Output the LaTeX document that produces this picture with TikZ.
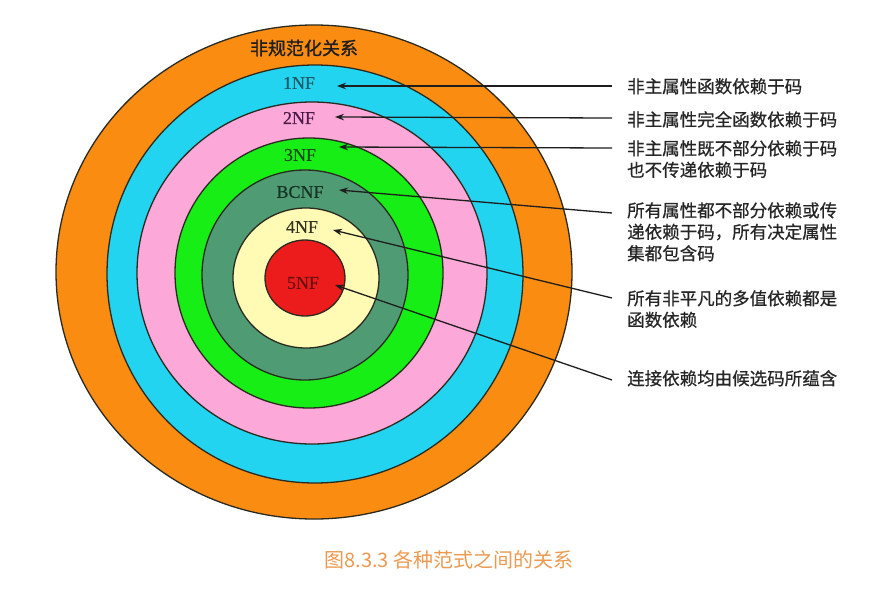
\documentclass[tikz,border=0pt]{standalone}
\usepackage{fontspec}
\setmainfont{Liberation Serif}
\newfontfamily\cjk{Noto Sans CJK SC}
\newfontfamily\cjkd[FakeBold=0.6]{Noto Sans CJK SC}
\newfontfamily\cjkb[FakeBold=1.2]{Noto Sans CJK SC}
\newfontfamily\serifb[FakeBold=0.5]{Liberation Serif}
\usetikzlibrary{arrows.meta}
\definecolor{cOrange}{HTML}{FA8C12}
\definecolor{cCyan}{HTML}{22D4F0}
\definecolor{cPink}{HTML}{FCA8D8}
\definecolor{cGreen}{HTML}{16EE16}
\definecolor{cDkGreen}{HTML}{4F9C74}
\definecolor{cYellow}{HTML}{FFFAB4}
\definecolor{cRed}{HTML}{EC1C1C}
\definecolor{cRing}{HTML}{2A2A20}
\definecolor{cArrow}{HTML}{1E1E1E}
\definecolor{cCaption}{HTML}{EC9A50}
\definecolor{t1}{HTML}{1E5A66}
\definecolor{t2}{HTML}{4A1A4A}
\definecolor{t3}{HTML}{1C4A1C}
\definecolor{t4}{HTML}{163226}
\definecolor{t5}{HTML}{333322}
\definecolor{t6}{HTML}{6A1010}
\begin{document}
\begin{tikzpicture}[x=1pt,y=-1pt,
  ring/.style={draw=cRing,line width=1.3pt},
  nflabel/.style={font=\serifb\fontsize{18}{20}\selectfont,inner sep=0pt},
  desc/.style={font=\cjkd\fontsize{17.5}{21.5}\selectfont,text=black!85,align=left,anchor=north west,inner sep=0pt},
  arr/.style={draw=cArrow,line width=1.3pt,-{Stealth[length=9pt,width=6.5pt]}}]
\useasboundingbox (0,0) rectangle (889,603);
\fill[white] (0,0) rectangle (889,603);
% rings
\filldraw[ring,fill=cOrange] (314,272) ellipse [x radius=258pt,y radius=247pt];
\filldraw[ring,fill=cCyan] (315,274) ellipse [x radius=208pt,y radius=209pt];
\filldraw[ring,fill=cPink] (312,273) ellipse [x radius=175pt,y radius=171pt];
\filldraw[ring,fill=cGreen] (309,273) ellipse [x radius=134pt,y radius=135pt];
\filldraw[ring,fill=cDkGreen] (305,275) ellipse [x radius=103pt,y radius=105pt];
\filldraw[ring,fill=cYellow] (306,278) ellipse [x radius=73pt,y radius=70pt];
\filldraw[ring,fill=cRed] (305,278) ellipse [x radius=40pt,y radius=38pt];
% ring labels
\node[font=\cjkb\fontsize{18}{20}\selectfont,text=black!88,inner sep=0pt] (n0) at (304,48) {非规范化关系};
\node[nflabel,text=t1] (n1) at (299,83) {1NF};
\node[nflabel,text=t2] (n2) at (299,118) {2NF};
\node[nflabel,text=t3] (n3) at (300,155) {3NF};
\node[nflabel,text=t4] (n4) at (300,192) {BCNF};
\node[nflabel,text=t5] (n5) at (302,227) {4NF};
\node[nflabel,text=t6] (n6) at (303,283) {5NF};
% descriptions
\node[desc] (d1) at (627,78) {非主属性函数依赖于码};
\node[desc] (d2) at (627,111) {非主属性完全函数依赖于码};
\node[desc] (d3) at (627,140) {非主属性既不部分依赖于码\\也不传递依赖于码};
\node[desc] (d4) at (627,202) {所有属性都不部分依赖或传\\递依赖于码，所有决定属性\\集都包含码};
\node[desc] (d5) at (627,290) {所有非平凡的多值依赖都是\\函数依赖};
\node[desc] (d6) at (627,370) {连接依赖均由候选码所蕴含};
% arrow ends
\coordinate (s1) at (612,86);  \coordinate (e1) at (337,86);
\coordinate (s2) at (612,118); \coordinate (e2) at (335,117);
\coordinate (s3) at (612,148); \coordinate (e3) at (339,147);
\coordinate (s4) at (612,213); \coordinate (e4) at (339,190);
\coordinate (s5) at (612,298); \coordinate (e5) at (333,230);
\coordinate (s6) at (612,380); \coordinate (e6) at (335,285);
\draw[arr] (s1) -- (e1);
\draw[arr] (s2) -- (e2);
\draw[arr] (s3) -- (e3);
\draw[arr] (s4) -- (e4);
\draw[arr] (s5) -- (e5);
\draw[arr] (s6) -- (e6);
% caption
\node[font=\cjk\fontsize{20}{22}\selectfont,text=cCaption,inner sep=0pt] (cap) at (449,560) {图8.3.3 各种范式之间的关系};
\end{tikzpicture}
\end{document}
